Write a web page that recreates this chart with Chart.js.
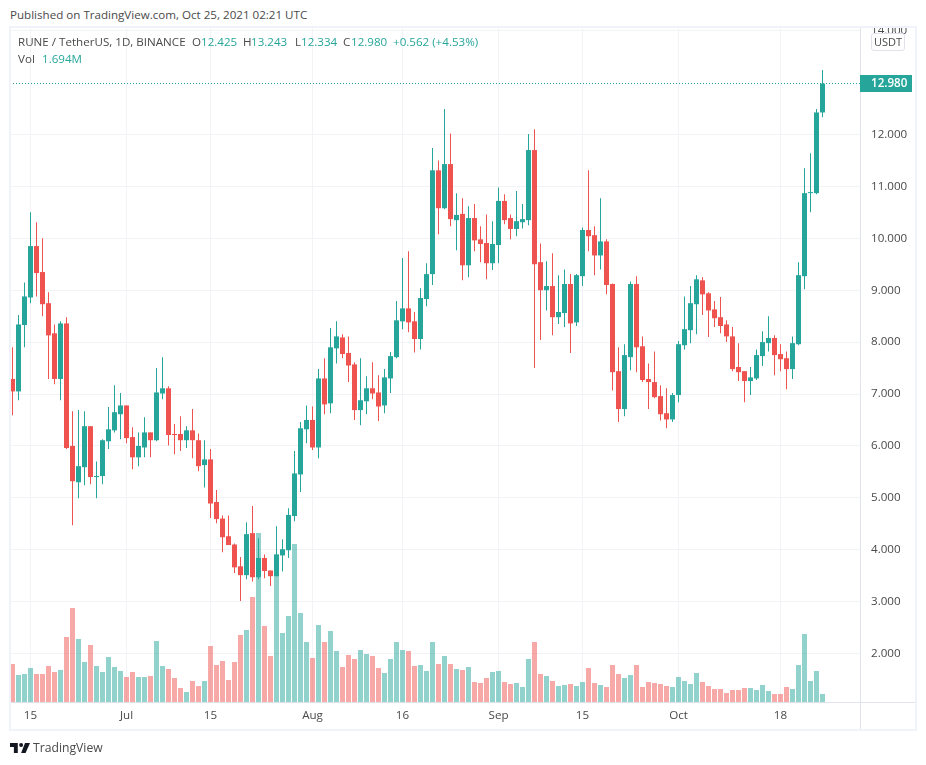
<!DOCTYPE html>
<html>
<head>
<meta charset="utf-8">
<title>RUNE / TetherUS</title>
<script src="https://cdn.jsdelivr.net/npm/chart.js@4"></script>
<style>
  body { margin: 0; background: #fff; font-family: "Open Sans", sans-serif; font-size: 11.6px; color: #4a4a4a; }
  #stage { position: relative; width: 926px; height: 765px; overflow: hidden; }
  canvas { position: absolute; left: 0; top: 0; }
  #mask { position: absolute; left: 0; top: 0; width: 926px; height: 26px; background: #fff; }
  #frame { position: absolute; left: 9px; top: 26px; width: 908px; height: 705px; box-sizing: border-box; border: 2px solid #f0f3fa; }
  .t { position: absolute; white-space: nowrap; line-height: 14px; }
  .up { color: #26a69a; }
  #usdt { position: absolute; left: 871px; top: 33px; width: 34px; height: 18px; box-sizing: border-box; border: 1px solid #e0e3eb; border-radius: 3px; background: #fff; text-align: center; line-height: 16px; font-size: 11px; }
  #logo { position: absolute; left: 10px; top: 743px; }
  #brand { position: absolute; left: 33px; top: 739px; font-size: 12.2px; line-height: 18px; color: #4a4a4a; }
</style>
</head>
<body>
<div id="stage">
  <canvas id="chart" width="926" height="765"></canvas>
  <div id="mask"><div class="t" style="left:10px;top:8px">Published on TradingView.com, Oct 25, 2021 02:21 UTC</div></div>
  <div id="frame"></div>
  <div class="t" style="left:18px;top:35px">RUNE / TetherUS, 1D, BINANCE</div>
  <div class="t" style="left:192px;top:35px">O</div><div class="t up" style="left:201px;top:35px">12.425</div>
  <div class="t" style="left:243px;top:35px">H</div><div class="t up" style="left:251px;top:35px">13.243</div>
  <div class="t" style="left:295px;top:35px">L</div><div class="t up" style="left:301px;top:35px">12.334</div>
  <div class="t" style="left:343px;top:35px">C</div><div class="t up" style="left:351px;top:35px">12.980</div>
  <div class="t up" style="left:393px;top:35px">+0.562 (+4.53%)</div>
  <div class="t" style="left:18px;top:52px">Vol</div><div class="t up" style="left:42px;top:52px">1.694M</div>
  <div id="usdt">USDT</div>
  <svg id="logo" width="20" height="10" viewBox="0 0 36 18"><path fill="#131722" d="M0 0h14v18H7V7H0z"/><circle fill="#131722" cx="20" cy="3.5" r="3.5"/><path fill="#131722" d="M36 0L28 18H20L27 0z"/></svg>
  <div id="brand">TradingView</div>
</div>
<script>
// daily candles from Jun 12 to Oct 25 2021, one value per day
const opens = [7.29,7.05,8.33,8.86,9.85,9.35,8.75,8.17,7.29,8.36,
  6.00,5.30,5.59,6.38,5.40,5.42,6.09,6.30,6.61,6.78,
  6.17,5.78,5.97,6.26,6.11,7.01,7.11,6.23,6.23,6.11,
  6.30,6.11,5.63,5.74,4.92,4.60,4.26,4.10,3.68,3.51,
  4.32,3.47,3.84,3.60,3.49,3.89,3.99,4.65,5.45,6.32,
  6.50,5.97,7.30,6.82,7.88,8.09,7.79,7.57,6.69,6.86,
  7.11,7.03,6.78,7.30,7.71,8.40,8.65,8.40,8.06,8.83,
  9.31,11.31,10.58,11.43,10.35,10.47,9.48,10.39,9.98,9.91,
  9.52,9.87,10.72,10.39,10.18,10.31,10.35,11.70,9.54,9.00,
  9.08,8.48,8.56,9.12,8.38,9.27,10.16,10.06,9.67,9.94,
  9.12,7.44,6.71,7.71,9.12,7.92,7.29,7.23,6.96,6.63,
  6.51,6.98,7.94,8.23,8.73,9.19,8.94,8.63,8.48,8.34,
  8.11,7.52,7.44,7.25,7.30,7.73,7.98,8.08,7.77,7.69,
  7.48,7.96,9.27,10.87,10.87,12.425];
const highs = [7.90,8.52,9.15,10.50,10.31,10.00,8.96,8.34,8.40,8.48,
  6.67,6.69,6.67,6.38,5.70,6.13,6.75,7.17,7.02,6.78,
  6.36,6.26,6.55,6.26,7.50,7.71,7.15,6.42,6.57,6.38,
  6.71,6.24,6.11,5.94,5.15,4.66,4.66,4.12,3.86,4.53,
  4.84,4.22,3.91,3.60,4.45,4.20,4.80,5.90,6.46,6.78,
  6.76,7.48,7.69,8.27,8.40,8.15,8.11,7.61,7.69,7.34,
  7.61,7.36,7.48,7.81,8.79,9.62,9.75,8.58,9.04,9.52,
  11.74,11.50,12.49,12.02,10.87,10.77,10.62,10.66,10.23,10.46,
  10.33,10.98,10.85,10.46,10.91,10.66,12.01,12.10,9.90,9.56,
  9.71,9.29,9.40,9.31,9.31,10.21,11.31,10.23,10.77,9.98,
  9.13,7.90,7.96,9.17,9.27,8.11,7.59,7.82,7.17,7.11,
  7.02,8.02,8.88,9.08,9.29,9.25,8.96,8.79,8.87,8.42,
  8.29,7.98,7.44,7.52,7.86,8.21,8.50,8.13,7.96,7.82,
  8.11,9.54,11.35,11.64,12.49,13.243];
const lows = [6.59,6.88,7.90,8.75,8.88,8.50,7.29,7.19,6.88,5.94,
  4.47,4.99,5.24,5.26,4.99,5.26,5.94,6.26,6.13,6.05,
  5.55,5.61,5.78,5.78,6.09,6.90,6.01,5.84,5.90,5.96,
  5.76,5.51,5.20,4.61,4.51,3.95,4.09,3.55,3.01,3.43,
  3.39,3.43,3.45,3.30,3.49,3.58,3.84,4.55,5.11,6.05,
  5.92,5.76,6.61,6.63,7.59,7.69,7.23,6.50,6.40,6.61,
  6.90,6.48,6.63,7.02,7.69,8.25,8.19,7.80,7.86,8.69,
  9.10,10.08,10.56,10.23,9.77,9.19,9.25,9.75,9.54,9.21,
  9.39,9.52,10.27,9.98,10.04,10.19,10.25,7.50,8.04,8.61,
  8.13,8.35,8.29,7.79,8.31,9.08,9.75,9.29,9.40,8.92,
  7.07,6.46,6.57,7.46,7.42,7.23,6.71,6.92,6.49,6.34,
  6.46,6.84,7.86,7.98,8.15,8.52,8.10,8.29,8.17,8.00,
  7.44,7.25,6.84,6.98,7.27,7.54,7.82,7.36,7.44,7.09,
  7.29,7.94,9.02,10.50,10.85,12.334];
const closes = [7.05,8.34,8.88,9.85,9.33,8.73,8.13,7.29,8.36,5.96,
  5.32,5.61,6.38,5.40,5.42,6.11,6.32,6.65,6.78,6.15,
  5.78,6.00,6.26,6.11,7.03,7.11,6.21,6.21,6.11,6.30,
  6.11,5.61,5.74,4.89,4.59,4.24,4.09,3.66,3.51,4.30,
  3.47,3.84,3.59,3.49,3.91,4.01,4.67,5.47,6.34,6.50,
  5.97,7.30,6.80,7.90,8.11,7.77,7.55,6.69,6.88,7.11,
  7.01,6.76,7.32,7.73,8.42,8.65,8.38,8.06,8.85,9.31,
  11.31,10.58,11.43,10.37,10.45,9.48,10.39,9.96,9.89,9.52,
  9.89,10.72,10.35,10.18,10.33,10.37,11.70,9.50,9.00,9.08,
  8.48,8.58,9.12,8.36,9.29,10.16,10.04,9.67,9.94,9.10,
  7.42,6.71,7.75,9.12,7.90,7.27,7.23,6.94,6.61,6.51,
  6.98,7.96,8.25,8.75,9.21,8.92,8.61,8.46,8.31,8.11,
  7.48,7.42,7.25,7.32,7.75,8.00,8.08,7.75,7.67,7.48,
  7.98,9.29,10.87,10.89,12.425,12.98];
// volume in millions
const volumes = [7.98,5.67,5.88,7.14,5.88,5.88,7.56,6.30,6.72,13.65,
  19.74,13.23,8.40,11.97,7.56,6.30,9.45,7.35,6.51,5.25,
  6.30,5.25,5.25,5.46,12.81,7.56,6.93,5.04,2.94,2.10,
  4.41,3.36,4.41,11.76,7.77,8.61,4.62,8.40,14.07,15.12,
  22.05,35.49,15.96,9.66,26.46,14.49,18.06,33.18,18.69,12.60,
  9.24,16.17,12.60,14.91,10.71,7.35,9.87,9.03,10.92,10.08,
  9.66,7.14,6.09,9.03,12.60,10.92,10.71,7.56,7.77,6.51,
  12.60,7.98,9.66,7.98,6.93,6.72,7.35,4.20,3.99,5.04,
  6.30,6.51,4.20,3.78,3.99,3.15,9.03,12.60,5.88,5.46,
  4.41,3.36,3.57,3.78,3.36,4.20,7.14,3.99,3.57,3.15,
  7.77,5.88,5.04,5.67,7.77,3.15,4.20,3.99,3.78,3.36,
  3.15,5.25,4.41,3.78,6.09,4.20,3.36,2.73,2.73,1.89,
  2.52,2.52,2.94,2.94,2.52,3.57,2.31,1.68,1.68,3.15,
  2.73,7.77,14.28,4.41,6.51,1.694];

const priceTicks = [2,3,4,5,6,7,8,9,10,11,12,14];
const timeTickDays = [3,19,33,50,65,81,95,111,128];
const timeTickLabels = ['15','Jul','15','Aug','16','Sep','15','Oct','18'];
const lastClose = 12.98;

const UP = '#26a69a';
const DOWN = '#ef5350';
const UP_VOL = 'rgba(38,166,154,0.5)';
const DOWN_VOL = 'rgba(239,83,80,0.5)';
const TEXT = '#4a4a4a';
const GRID = '#f2f3f6';
const FONT = '"Open Sans", sans-serif';

const isUp = closes.map((c, i) => c >= opens[i]);
const candleColors = isUp.map(u => (u ? UP : DOWN));
const volumeColors = isUp.map(u => (u ? UP_VOL : DOWN_VOL));

// lines and price tag that are not part of the scales
const overlay = {
  id: 'overlay',
  beforeDatasetsDraw(chart) {
    const { ctx, chartArea } = chart;
    ctx.save();
    ctx.strokeStyle = '#e0e3eb';
    ctx.lineWidth = 1;
    ctx.beginPath();
    ctx.moveTo(chartArea.right + 0.5, chartArea.top);
    ctx.lineTo(chartArea.right + 0.5, 729);
    ctx.moveTo(chartArea.left, chartArea.bottom + 0.5);
    ctx.lineTo(915, chartArea.bottom + 0.5);
    ctx.stroke();
    ctx.restore();
  },
  afterDatasetsDraw(chart) {
    const { ctx, chartArea, scales } = chart;
    const y = Math.floor(scales.y.getPixelForValue(lastClose)) + 0.5;
    ctx.save();
    ctx.strokeStyle = UP;
    ctx.lineWidth = 1;
    ctx.setLineDash([1, 2]);
    ctx.beginPath();
    ctx.moveTo(chartArea.left, y);
    ctx.lineTo(chartArea.right, y);
    ctx.stroke();
    ctx.setLineDash([]);
    ctx.fillStyle = UP;
    ctx.fillRect(chartArea.right, y - 8.5, 52, 17);
    ctx.fillStyle = '#fff';
    ctx.font = '600 11.6px ' + FONT;
    ctx.textAlign = 'left';
    ctx.textBaseline = 'middle';
    ctx.fillText(lastClose.toFixed(3), chartArea.right + 11, y + 0.5);
    ctx.restore();
  },
};

new Chart(document.getElementById('chart'), {
  type: 'bar',
  plugins: [overlay],
  data: {
    datasets: [
      {
        label: 'Bodies',
        data: opens.map((o, i) => ({ x: i, y: [o, closes[i]] })),
        backgroundColor: candleColors,
        barThickness: 5,
        minBarLength: 1,
        order: 1,
      },
      {
        label: 'Wicks',
        data: lows.map((l, i) => ({ x: i, y: [l, highs[i]] })),
        backgroundColor: candleColors,
        barThickness: 1,
        order: 2,
      },
      {
        label: 'Volume',
        data: volumes.map((v, i) => ({ x: i, y: v })),
        backgroundColor: volumeColors,
        barThickness: 5,
        yAxisID: 'yVol',
        order: 3,
      },
    ],
  },
  options: {
    responsive: false,
    animation: false,
    devicePixelRatio: 1,
    layout: { padding: { left: 10, top: 28, right: 0, bottom: 35 } },
    datasets: { bar: { grouped: false, borderWidth: 0, inflateAmount: 0 } },
    plugins: { legend: { display: false }, tooltip: { enabled: false } },
    scales: {
      x: {
        type: 'linear',
        position: 'bottom',
        offset: false,
        min: -0.4167,
        max: 141.25,
        afterBuildTicks(scale) {
          scale.ticks = timeTickDays.map(d => ({ value: d }));
        },
        afterFit(scale) {
          scale.height = 28;
        },
        border: { display: false },
        grid: { color: GRID, drawTicks: false, offset: false },
        ticks: {
          autoSkip: false,
          maxRotation: 0,
          padding: 7,
          color: TEXT,
          font: { family: FONT, size: 11.6 },
          callback: v => timeTickLabels[timeTickDays.indexOf(v)],
        },
      },
      y: {
        position: 'right',
        min: 1.066,
        max: 14.052,
        afterBuildTicks(scale) {
          scale.ticks = priceTicks.map(v => ({ value: v }));
        },
        afterFit(scale) {
          scale.width = 66;
        },
        border: { display: false },
        grid: { color: GRID, drawTicks: false },
        ticks: {
          autoSkip: false,
          padding: 11,
          color: TEXT,
          font: { family: FONT, size: 11.6 },
          callback: v => v.toFixed(3),
        },
      },
      yVol: {
        display: false,
        min: 0,
        max: 141.54,
      },
    },
  },
});
</script>
</body>
</html>
